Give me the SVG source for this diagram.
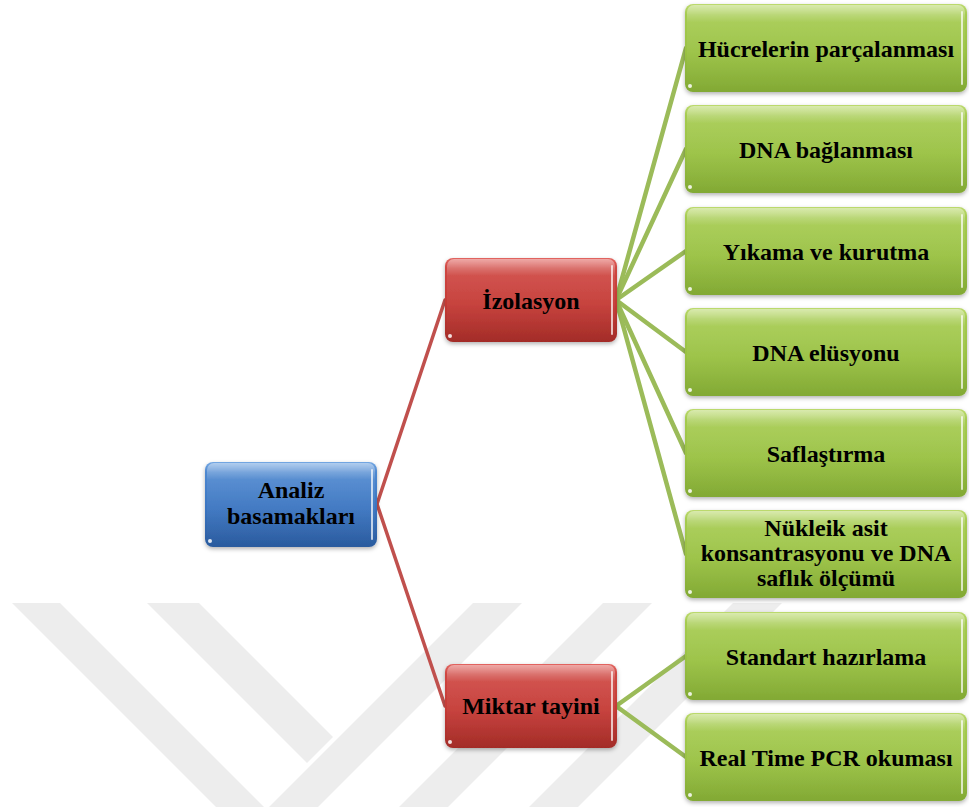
<svg xmlns="http://www.w3.org/2000/svg" width="969" height="807" viewBox="0 0 969 807">
<style>
.t{font-family:"Liberation Serif","Times New Roman",serif;font-weight:bold;font-size:24px;fill:#000;text-anchor:middle}
.wm{fill:#EDEDED}
.cr{stroke:#C0504D;stroke-width:3.5;fill:none;stroke-linecap:round}
.cg{stroke:#9BBB59;stroke-width:4.5;fill:none;stroke-linecap:round}
.gl{fill:url(#gloss)}
.rh{stroke:#fff;stroke-opacity:0.7;stroke-width:2;stroke-linecap:round}
.dot{fill:#fff;fill-opacity:0.85}
.bl{fill:url(#gBlue)}
.rd{fill:url(#gRed)}
.gr{fill:url(#gGreen)}
.box{filter:url(#sh)}
</style>
<defs>
<linearGradient id="gBlue" x1="0" y1="0" x2="0" y2="1">
<stop offset="0" stop-color="#74A7E2"/>
<stop offset="0.12" stop-color="#4E88D0"/>
<stop offset="0.55" stop-color="#3A74C0"/>
<stop offset="1" stop-color="#2A5B9E"/>
</linearGradient>
<linearGradient id="gRed" x1="0" y1="0" x2="0" y2="1">
<stop offset="0" stop-color="#E26560"/>
<stop offset="0.12" stop-color="#CF4641"/>
<stop offset="0.55" stop-color="#C43A35"/>
<stop offset="1" stop-color="#A32C28"/>
</linearGradient>
<linearGradient id="gGreen" x1="0" y1="0" x2="0" y2="1">
<stop offset="0" stop-color="#BCDA6E"/>
<stop offset="0.12" stop-color="#A5CB4F"/>
<stop offset="0.55" stop-color="#99C142"/>
<stop offset="1" stop-color="#82A934"/>
</linearGradient>
<linearGradient id="gloss" x1="0" y1="0" x2="0" y2="1">
<stop offset="0" stop-color="#fff" stop-opacity="0.45"/>
<stop offset="0.2" stop-color="#fff" stop-opacity="0.08"/>
<stop offset="1" stop-color="#fff" stop-opacity="0"/>
</linearGradient>
<filter id="sh" x="-10%" y="-10%" width="120%" height="130%">
<feDropShadow dx="0" dy="2" stdDeviation="2" flood-color="#000" flood-opacity="0.3"/>
</filter>
</defs>

<g id="watermark">
<polygon class="wm" points="12,603 60,603 264,807 216,807"/>
<polygon class="wm" points="147,603 199,603 333,737 307,763"/>
<polygon class="wm" points="473,603 522,603 318,807 269,807"/>
<polygon class="wm" points="603,603 652,603 448,807 399,807"/>
<polygon class="wm" points="733,603 782,603 578,807 529,807"/>
</g>

<g id="connectors">
<line class="cr" x1="377" y1="504" x2="445" y2="300"/>
<line class="cr" x1="377" y1="504" x2="445" y2="706"/>
<line class="cg" x1="616" y1="300" x2="686" y2="48"/>
<line class="cg" x1="616" y1="300" x2="686" y2="149"/>
<line class="cg" x1="616" y1="300" x2="686" y2="251"/>
<line class="cg" x1="616" y1="300" x2="686" y2="352"/>
<line class="cg" x1="616" y1="300" x2="686" y2="453"/>
<line class="cg" x1="616" y1="300" x2="686" y2="554"/>
<line class="cg" x1="616" y1="706" x2="686" y2="656"/>
<line class="cg" x1="616" y1="706" x2="686" y2="757"/>
</g>

<g id="analiz">
<rect class="box bl" x="205" y="462" width="172" height="85" rx="8"/>
<rect class="gl" x="207" y="463" width="168" height="83" rx="7"/>
<line class="rh" x1="372" y1="470" x2="372" y2="539"/>
<circle class="dot" cx="210" cy="541" r="2"/>
<text class="t" x="291" y="498">Analiz</text>
<text class="t" x="291" y="524">basamakları</text>
</g>

<g id="izolasyon">
<rect class="box rd" x="445" y="258" width="172" height="84" rx="8"/>
<rect class="gl" x="447" y="259" width="168" height="82" rx="7"/>
<line class="rh" x1="612" y1="266" x2="612" y2="334"/>
<circle class="dot" cx="450" cy="336" r="2"/>
<text class="t" x="531" y="309">İzolasyon</text>
</g>

<g id="miktar">
<rect class="box rd" x="445" y="664" width="172" height="84" rx="8"/>
<rect class="gl" x="447" y="665" width="168" height="82" rx="7"/>
<line class="rh" x1="612" y1="672" x2="612" y2="740"/>
<circle class="dot" cx="450" cy="742" r="2"/>
<text class="t" x="531" y="714">Miktar tayini</text>
</g>

<g id="hucre">
<rect class="box gr" x="685" y="4" width="282" height="88" rx="8"/>
<rect class="gl" x="687" y="5" width="278" height="86" rx="7"/>
<line class="rh" x1="962" y1="12" x2="962" y2="84"/>
<circle class="dot" cx="690" cy="86" r="2"/>
<text class="t" x="826" y="57">Hücrelerin parçalanması</text>
</g>

<g id="dnabag">
<rect class="box gr" x="685" y="105" width="282" height="88" rx="8"/>
<rect class="gl" x="687" y="106" width="278" height="86" rx="7"/>
<line class="rh" x1="962" y1="113" x2="962" y2="185"/>
<circle class="dot" cx="690" cy="187" r="2"/>
<text class="t" x="826" y="158">DNA bağlanması</text>
</g>

<g id="yikama">
<rect class="box gr" x="685" y="207" width="282" height="88" rx="8"/>
<rect class="gl" x="687" y="208" width="278" height="86" rx="7"/>
<line class="rh" x1="962" y1="215" x2="962" y2="287"/>
<circle class="dot" cx="690" cy="289" r="2"/>
<text class="t" x="826" y="260">Yıkama ve kurutma</text>
</g>

<g id="elusyon">
<rect class="box gr" x="685" y="308" width="282" height="88" rx="8"/>
<rect class="gl" x="687" y="309" width="278" height="86" rx="7"/>
<line class="rh" x1="962" y1="316" x2="962" y2="388"/>
<circle class="dot" cx="690" cy="390" r="2"/>
<text class="t" x="826" y="361">DNA elüsyonu</text>
</g>

<g id="saflastirma">
<rect class="box gr" x="685" y="409" width="282" height="88" rx="8"/>
<rect class="gl" x="687" y="410" width="278" height="86" rx="7"/>
<line class="rh" x1="962" y1="417" x2="962" y2="489"/>
<circle class="dot" cx="690" cy="491" r="2"/>
<text class="t" x="826" y="462">Saflaştırma</text>
</g>

<g id="nukleik">
<rect class="box gr" x="685" y="510" width="282" height="88" rx="8"/>
<rect class="gl" x="687" y="511" width="278" height="86" rx="7"/>
<line class="rh" x1="962" y1="518" x2="962" y2="590"/>
<circle class="dot" cx="690" cy="592" r="2"/>
<text class="t" x="826" y="536">Nükleik asit</text>
<text class="t" x="826" y="561">konsantrasyonu ve DNA</text>
<text class="t" x="826" y="586">saflık ölçümü</text>
</g>

<g id="standart">
<rect class="box gr" x="685" y="612" width="282" height="88" rx="8"/>
<rect class="gl" x="687" y="613" width="278" height="86" rx="7"/>
<line class="rh" x1="962" y1="620" x2="962" y2="692"/>
<circle class="dot" cx="690" cy="694" r="2"/>
<text class="t" x="826" y="665">Standart hazırlama</text>
</g>

<g id="realtime">
<rect class="box gr" x="685" y="713" width="282" height="88" rx="8"/>
<rect class="gl" x="687" y="714" width="278" height="86" rx="7"/>
<line class="rh" x1="962" y1="721" x2="962" y2="793"/>
<circle class="dot" cx="690" cy="795" r="2"/>
<text class="t" x="826" y="766">Real Time PCR okuması</text>
</g>
</svg>
